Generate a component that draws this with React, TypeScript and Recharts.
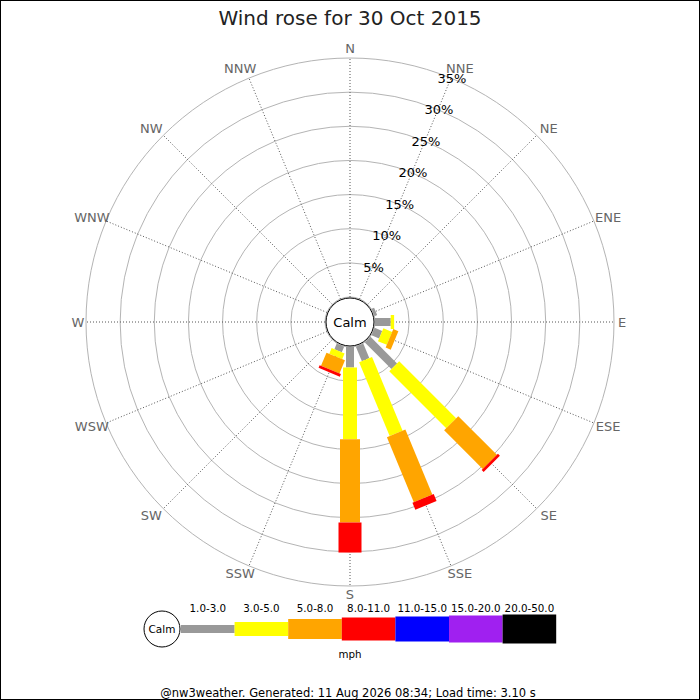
import React from 'react';
import {
  RadialBarChart,
  RadialBar,
  PolarGrid,
  PolarAngleAxis,
  PolarRadiusAxis,
  Legend,
} from 'recharts';

const directions = ['N', 'NNE', 'NE', 'ENE', 'E', 'ESE', 'SE', 'SSE', 'S', 'SSW', 'SW', 'WSW', 'W', 'WNW', 'NW', 'NNW'];

const speedBands = ['1.0-3.0', '3.0-5.0', '5.0-8.0', '8.0-11.0', '11.0-15.0', '15.0-20.0', '20.0-50.0'];

// % of the day per direction, one array per speed band
const band1 = [0, 0, 0, 0.4, 2.3, 1.2, 5.5, 2.3, 3.0, 0.9, 0, 0, 0, 0, 0, 0];
const band2 = [0, 0, 0, 0, 0.5, 1.4, 11.8, 11.7, 10.5, 0.9, 0, 0, 0, 0, 0, 0];
const band3 = [0, 0, 0, 0, 0, 0.8, 8.0, 10.3, 12.2, 2.1, 0, 0, 0, 0, 0, 0];
const band4 = [0, 0, 0, 0, 0, 0, 0.4, 1.1, 4.4, 0.4, 0, 0, 0, 0, 0, 0];
const band5 = [0, 0, 0, 0, 0, 0, 0, 0, 0, 0, 0, 0, 0, 0, 0, 0];
const band6 = [0, 0, 0, 0, 0, 0, 0, 0, 0, 0, 0, 0, 0, 0, 0, 0];
const band7 = [0, 0, 0, 0, 0, 0, 0, 0, 0, 0, 0, 0, 0, 0, 0, 0];

const pctTicks = [0, 5, 10, 15, 20, 25, 30, 35];

const bands = [band1, band2, band3, band4, band5, band6, band7];
const colours = ['#999999', '#ffff00', '#ffa500', '#ff0000', '#0000ff', '#a020f0', '#000000'];
const thickness = [8, 14, 20, 23, 25, 27, 29];

const data = directions.map((dir, i) => {
  const row: Record<string, any> = { dir };
  bands.forEach((b, j) => {
    row['b' + j] = b[i];
  });
  return row;
});

const FONT = '"DejaVu Sans", Verdana, sans-serif';
const CX = 350;
const CY = 322;

// straight bar of fixed width, pointing along the category angle
// (barCategoryGap=0 so startAngle is the category's own angle)
const barShape = (w: number) => (props: any) => {
  const { cx, cy, innerRadius, outerRadius, startAngle, fill } = props;
  if (!(outerRadius - innerRadius > 0.05)) return <g />;
  const a = -startAngle * (Math.PI / 180);
  const ux = Math.cos(a);
  const uy = Math.sin(a);
  const nx = (-uy * w) / 2;
  const ny = (ux * w) / 2;
  const pts = [
    [innerRadius, 1],
    [outerRadius, 1],
    [outerRadius, -1],
    [innerRadius, -1],
  ]
    .map(([r, s]) => `${cx + ux * r + s * nx},${cy + uy * r + s * ny}`)
    .join(' ');
  return <polygon points={pts} fill={fill} />;
};

const DirTick = (props: any) => {
  const { payload } = props;
  let { x, y } = props;
  const dx = x - CX;
  const dy = y - CY;
  // labels sit a little wider on the diagonals
  if (Math.abs(dx) > 1) x += Math.sign(dx) * (Math.abs(dy) > 1 ? 5 : -2);
  if (dy > 200) y -= 2;
  return (
    <text x={x} y={y} textAnchor="middle" dominantBaseline="central" fill="#666" fontSize={13} fontFamily={FONT}>
      {payload.value}
    </text>
  );
};

const PctTick = (props: any) => {
  const { x, y, payload } = props;
  if (payload.value === 0) return <g />;
  return (
    <text x={x + 1} y={y} textAnchor="middle" dominantBaseline="central" fill="#000" fontSize={13} fontFamily={FONT}>
      {payload.value}%
    </text>
  );
};

const LegendBox = () => {
  const x0 = 181;
  const segW = 53.6;
  const midY = 34;
  return (
    <svg width={700} height={70} style={{ display: 'block' }}>
      <circle cx={162} cy={midY} r={18} fill="#fff" stroke="#000" />
      <text x={162} y={midY} textAnchor="middle" dominantBaseline="central" fontSize={10.5} fontFamily={FONT}>
        Calm
      </text>
      {speedBands.map((b, i) => (
        <g key={b}>
          <rect x={x0 + i * segW} y={midY - thickness[i] / 2} width={segW} height={thickness[i]} fill={colours[i]} />
          <text x={x0 + i * segW + segW / 2} y={12.5} textAnchor="middle" dominantBaseline="central" fontSize={10.3} fontFamily={FONT}>
            {b}
          </text>
        </g>
      ))}
      <text x={350} y={59} textAnchor="middle" dominantBaseline="central" fontSize={10.3} fontFamily={FONT}>
        mph
      </text>
    </svg>
  );
};

export default function App() {
  return (
    <div style={{ position: 'absolute', left: 0, top: 0, width: 700, height: 700, background: '#fff' }}>
      <RadialBarChart
        width={700}
        height={700}
        data={data}
        layout="centric"
        cx={CX}
        cy={CY}
        innerRadius={25}
        outerRadius={264}
        startAngle={90}
        endAngle={-270}
        barCategoryGap={0}
        margin={{ top: 0, right: 0, bottom: 0, left: 0 }}
      >
        <PolarGrid gridType="circle" radialLines={false} stroke="#b4b4b4" />
        <PolarGrid gridType="circle" polarRadius={[]} stroke="#555" strokeDasharray="1 2" />
        <PolarAngleAxis dataKey="dir" type="category" tick={DirTick} tickLine={false} axisLine={false} tickSize={10} />
        <PolarRadiusAxis
          type="number"
          angle={67.5}
          domain={[0, 35]}
          ticks={pctTicks}
          tick={PctTick}
          axisLine={false}
          tickLine={false}
        />
        {speedBands.map((b, i) => (
          <RadialBar
            key={b}
            dataKey={'b' + i}
            name={b}
            stackId="rose"
            fill={colours[i]}
            isAnimationActive={false}
            shape={barShape(thickness[i])}
          />
        ))}
        <circle cx={CX} cy={CY} r={24} fill="#fff" stroke="#000" />
        <text x={CX} y={CY} textAnchor="middle" dominantBaseline="central" fontSize={13} fontFamily={FONT}>
          Calm
        </text>
        <text x={350} y={25} textAnchor="middle" fontSize={20} fill="#222" fontFamily={FONT}>
          Wind rose for 30 Oct 2015
        </text>
        <text x={348} y={693} textAnchor="middle" dominantBaseline="central" fontSize={11.5} fontFamily={FONT}>
          @nw3weather. Generated: 11 Aug 2026 08:34; Load time: 3.10 s
        </text>
        <Legend
          content={() => <LegendBox />}
          wrapperStyle={{ left: 0, top: 595, width: 700, height: 70 }}
        />
      </RadialBarChart>
      <div
        style={{
          position: 'absolute',
          left: 0,
          top: 0,
          width: 700,
          height: 700,
          boxSizing: 'border-box',
          border: '1px solid #000',
          pointerEvents: 'none',
        }}
      />
    </div>
  );
}
